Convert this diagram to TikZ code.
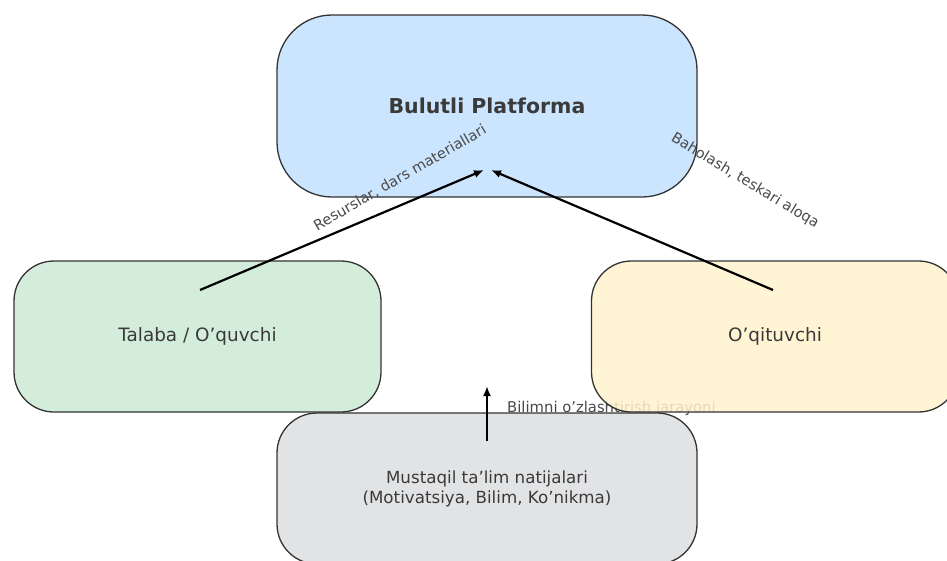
\documentclass[tikz,border=0pt]{standalone}
\usepackage{fontspec}
\setmainfont{DejaVu Sans}
\usetikzlibrary{arrows.meta}
\definecolor{cblue}{HTML}{CCE5FF}
\definecolor{cgreen}{HTML}{D4EDDA}
\definecolor{cyellow}{HTML}{FFF3CD}
\definecolor{cgray}{HTML}{E2E3E5}
\definecolor{cedge}{HTML}{333333}
\definecolor{ctext}{HTML}{3A3A3A}
\definecolor{clab}{HTML}{4A4A4A}
\begin{document}
\begin{tikzpicture}[x=1pt,y=-1pt,
  box/.style={draw=cedge, line width=1.3pt, rounded corners=40pt, text=ctext, align=center, inner sep=0pt},
  lab/.style={text=clab, inner sep=0pt, font=\fontsize{14.5}{17}\selectfont},
  arr/.style={-{Latex[length=10pt,width=8pt]}, line width=2.2pt, black}]
\useasboundingbox (0,0) rectangle (947,560);
\clip (0,0) rectangle (947,560);
\fill[white] (0,0) rectangle (947,560);
\node[lab, anchor=west, font=\fontsize{14.8}{17}\selectfont] (lbilim) at (507,408) {Bilimni o’zlashtirish jarayoni};
\node[box, fill=cblue, rounded corners=55pt, minimum width=420pt, minimum height=182pt,
  font=\bfseries\fontsize{20.5}{24}\selectfont] (plat) at (487,106) {Bulutli Platforma};
\node[box, fill=cgreen, minimum width=367pt, minimum height=151pt,
  font=\fontsize{18.4}{22}\selectfont] (stud) at (197.5,336.5) {Talaba / O’quvchi};
\node[box, fill=cgray, minimum width=420pt, minimum height=151pt,
  font=\fontsize{16.7}{20}\selectfont] (res) at (487,488.5) {Mustaqil ta’lim natijalari\\(Motivatsiya, Bilim, Ko’nikma)};
\node[box, fill=cyellow, fill opacity=0.85, text opacity=1, minimum width=367pt, minimum height=151pt,
  font=\fontsize{18.4}{22}\selectfont] (teach) at (775,336.5) {O’qituvchi};
\node[lab, rotate=30] (lres) at (400,178) {Resurslar, dars materiallari};
\node[lab, rotate=-31] (lbah) at (745,181) {Baholash, teskari aloqa};
\coordinate (s1) at (200,290);
\coordinate (p1) at (484,170);
\coordinate (t1) at (773,290);
\coordinate (p2) at (491,170);
\coordinate (r1) at (487,441);
\coordinate (r2) at (487,386);
\draw[arr] (s1) -- (p1);
\draw[arr] (t1) -- (p2);
\draw[arr] (r1) -- (r2);
\end{tikzpicture}
\end{document}
